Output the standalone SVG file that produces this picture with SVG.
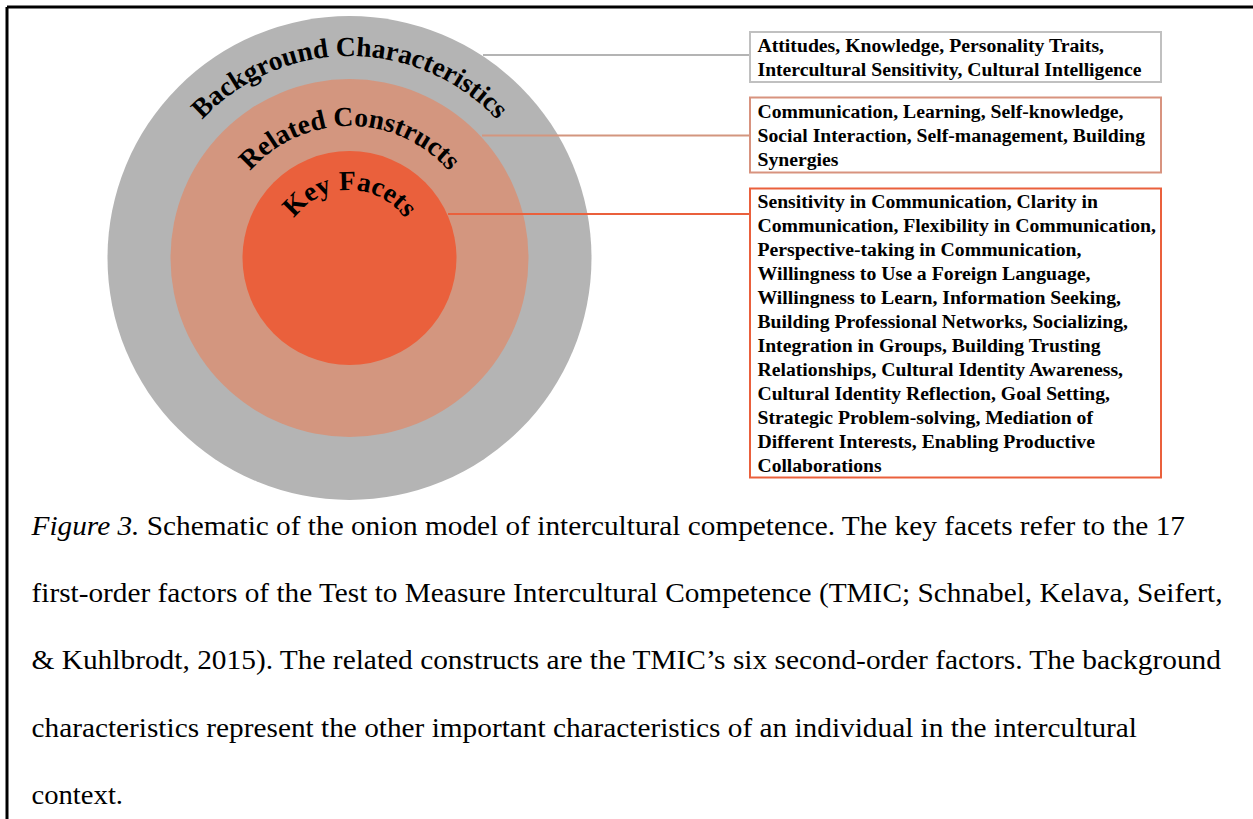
<svg xmlns="http://www.w3.org/2000/svg" width="1253" height="819" viewBox="0 0 1253 819">
<style>
.ring{font-family:"Liberation Serif","Times New Roman",serif;font-weight:bold;font-size:27.5px;fill:#000}
.box{font-family:"Liberation Serif","Times New Roman",serif;font-weight:bold;font-size:18px;fill:#000}
.cap{font-family:"Liberation Serif","Times New Roman",serif;font-size:26.5px;fill:#000}
.conn{stroke-width:2;fill:none}
</style>
<defs>
<path id="arcBg" d="M147.5,258 A202,202 0 0 1 551.5,258"/>
<path id="arcRc" d="M217.5,258 A132,132 0 0 1 481.5,258"/>
<path id="arcKf" d="M281.5,258 A68,68 0 0 1 417.5,258"/>
</defs>
<rect width="1253" height="819" fill="#fff"/>
<g id="frame" stroke="#000" stroke-width="3" fill="none">
<line x1="7" y1="7" x2="1253" y2="7"/>
<line x1="7" y1="7" x2="7" y2="819"/>
</g>
<g id="onion">
<circle cx="349.5" cy="258" r="242" fill="#b4b4b4"/>
<circle cx="349.5" cy="258" r="179" fill="#d3967f"/>
<circle cx="349.5" cy="258" r="107" fill="#ea603c"/>
<text class="ring"><textPath href="#arcBg" startOffset="50%" text-anchor="middle">Background Characteristics</textPath></text>
<text class="ring"><textPath href="#arcRc" startOffset="50%" text-anchor="middle">Related Constructs</textPath></text>
<text class="ring"><textPath href="#arcKf" startOffset="50%" text-anchor="middle">Key Facets</textPath></text>
</g>
<g id="connectors">
<line class="conn" x1="483" y1="55" x2="750" y2="55" stroke="#b4b4b4"/>
<line class="conn" x1="482" y1="135.5" x2="750" y2="135.5" stroke="#d3967f"/>
<line class="conn" x1="448" y1="214" x2="750" y2="214" stroke="#ea603c"/>
</g>
<g id="box-background">
<rect x="750" y="32" width="411" height="50" fill="#fff" stroke="#c0c0c0" stroke-width="2"/>
<text class="box" x="757.5" y="51.5" textLength="346.5" lengthAdjust="spacingAndGlyphs">Attitudes, Knowledge, Personality Traits,</text>
<text class="box" x="757.5" y="75.5" textLength="384" lengthAdjust="spacingAndGlyphs">Intercultural Sensitivity, Cultural Intelligence</text>
</g>
<g id="box-related">
<rect x="750" y="97.5" width="411" height="75" fill="#fff" stroke="#d8937f" stroke-width="2"/>
<text class="box" x="757.5" y="118.3" textLength="366" lengthAdjust="spacingAndGlyphs">Communication, Learning, Self-knowledge,</text>
<text class="box" x="757.5" y="142.3" textLength="387.5" lengthAdjust="spacingAndGlyphs">Social Interaction, Self-management, Building</text>
<text class="box" x="757.5" y="166.3" textLength="81" lengthAdjust="spacingAndGlyphs">Synergies</text>
</g>
<g id="box-key">
<rect x="750" y="188.5" width="411" height="289" fill="#fff" stroke="#ea603c" stroke-width="2"/>
<text class="box" x="757.5" y="208.3" textLength="340.5" lengthAdjust="spacingAndGlyphs">Sensitivity in Communication, Clarity in</text>
<text class="box" x="757.5" y="232.3" textLength="398.5" lengthAdjust="spacingAndGlyphs">Communication, Flexibility in Communication,</text>
<text class="box" x="757.5" y="256.3" textLength="324" lengthAdjust="spacingAndGlyphs">Perspective-taking in Communication,</text>
<text class="box" x="757.5" y="280.3" textLength="333" lengthAdjust="spacingAndGlyphs">Willingness to Use a Foreign Language,</text>
<text class="box" x="757.5" y="304.3" textLength="363.5" lengthAdjust="spacingAndGlyphs">Willingness to Learn, Information Seeking,</text>
<text class="box" x="757.5" y="328.3" textLength="370.5" lengthAdjust="spacingAndGlyphs">Building Professional Networks, Socializing,</text>
<text class="box" x="757.5" y="352.3" textLength="343" lengthAdjust="spacingAndGlyphs">Integration in Groups, Building Trusting</text>
<text class="box" x="757.5" y="376.3" textLength="365.5" lengthAdjust="spacingAndGlyphs">Relationships, Cultural Identity Awareness,</text>
<text class="box" x="757.5" y="400.3" textLength="352.5" lengthAdjust="spacingAndGlyphs">Cultural Identity Reflection, Goal Setting,</text>
<text class="box" x="757.5" y="424.3" textLength="335.5" lengthAdjust="spacingAndGlyphs">Strategic Problem-solving, Mediation of</text>
<text class="box" x="757.5" y="448.3" textLength="337.5" lengthAdjust="spacingAndGlyphs">Different Interests, Enabling Productive</text>
<text class="box" x="757.5" y="472.3" textLength="124" lengthAdjust="spacingAndGlyphs">Collaborations</text>
</g>
<g id="caption">
<text class="cap" x="31.5" y="535" textLength="1153.5" lengthAdjust="spacingAndGlyphs"><tspan font-style="italic">Figure 3.</tspan> Schematic of the onion model of intercultural competence. The key facets refer to the 17</text>
<text class="cap" x="31.5" y="602" textLength="1191" lengthAdjust="spacingAndGlyphs">first-order factors of the Test to Measure Intercultural Competence (TMIC; Schnabel, Kelava, Seifert,</text>
<text class="cap" x="31.5" y="669" textLength="1189.5" lengthAdjust="spacingAndGlyphs">&amp; Kuhlbrodt, 2015). The related constructs are the TMIC’s six second-order factors. The background</text>
<text class="cap" x="31.5" y="737" textLength="1105.5" lengthAdjust="spacingAndGlyphs">characteristics represent the other important characteristics of an individual in the intercultural</text>
<text class="cap" x="31.5" y="804" textLength="91.5" lengthAdjust="spacingAndGlyphs">context.</text>
</g>
</svg>
